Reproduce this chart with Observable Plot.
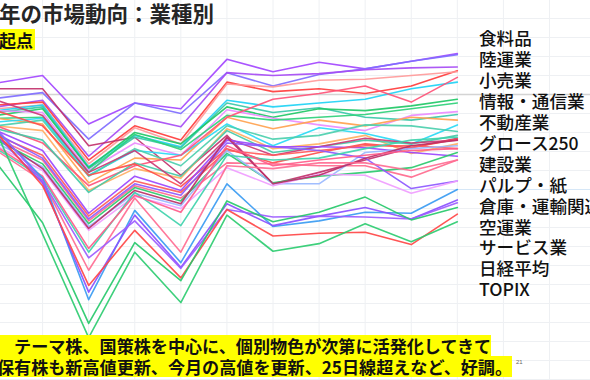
<!DOCTYPE html>
<html>
<head>
<meta charset="utf-8">
<script src="https://cdn.jsdelivr.net/npm/d3@7"></script>
<script src="https://cdn.jsdelivr.net/npm/@observablehq/plot@0.6"></script>
<style>
html, body { margin: 0; padding: 0; background: #fff; width: 590px; height: 380px; overflow: hidden; }
#wrap { position: relative; width: 590px; height: 380px; overflow: hidden; font-family: "Noto Sans CJK JP", "Noto Sans", sans-serif; }
#chart { position: absolute; left: 0; top: 0; }
.title { position: absolute; left: -1px; top: 2px; font-size: 21.5px; line-height: 1; font-weight: 700; color: #262626; white-space: nowrap; }
.tag { position: absolute; left: 0; top: 29px; width: 35px; height: 21px; line-height: 21px; background: #ffff00; font-size: 17px; font-weight: 700; color: #111; white-space: nowrap; overflow: hidden; text-indent: -1px; }
.labels { position: absolute; left: 479px; top: 28.4px; font-size: 17.6px; line-height: 20.9px; font-weight: 500; color: #111; white-space: nowrap; }
.cap { position: absolute; left: -3px; font-size: 17.1px; font-weight: 700; color: #111; white-space: nowrap; height: 21px; line-height: 21px; background: #ffff00; width: max-content; }
.pg { position: absolute; left: 516px; top: 359px; font-size: 6px; color: #666; font-family: "Liberation Sans", sans-serif; }
</style>
</head>
<body>
<div id="wrap">
  <div id="chart"></div>
  <div class="title">年の市場動向：業種別</div>
  <div class="tag">起点</div>
  <div class="labels" id="labels"></div>
  <div class="cap" style="top:335px">　テーマ株、国策株を中心に、個別物色が次第に活発化してきて</div>
  <div class="cap" style="top:356px">保有株も新高値更新、今月の高値を更新、25日線超えなど、好調。</div>
  <div class="pg">21</div>
</div>
<script>
// x steps (trading days since the base point)
const steps = [0, 1, 2, 3, 4, 5, 6, 7, 8, 9, 10];

const seriesNames = [
  "食料品", "陸運業", "小売業", "情報・通信業", "不動産業", "グロース250", "建設業", "パルプ・紙",
  "倉庫・運輸関連業", "空運業", "サービス業", "日経平均", "TOPIX", "水産・農林業", "鉱業", "繊維製品",
  "化学", "医薬品", "石油・石炭製品", "ゴム製品", "ガラス・土石製品", "鉄鋼", "非鉄金属", "金属製品",
  "機械", "電気機器", "輸送用機器", "精密機器", "その他製品", "電気・ガス業", "海運業", "卸売業",
  "銀行業", "証券、商品先物取引業", "保険業", "その他金融業"
];

const seriesColors = [
  "#a346ff", "#7f6cff", "#a64bf4", "#ff3c3c", "#ff9a9a", "#c2326c", "#1fd3f5", "#3ac8a8",
  "#20c866", "#ea8cff", "#2fd07a", "#ffa24f", "#ffae63", "#29daf5", "#4ccfae", "#ff5278",
  "#45c9a7", "#cc3a75", "#ff4d4d", "#9a46ff", "#ff5a5a", "#ff6a8e", "#2cc96e", "#99b8ff",
  "#8d58ff", "#f09dff", "#bb2f66", "#ff6d92", "#3fd2ad", "#ff5c8a", "#3a9bf2", "#8a4fff",
  "#9c5cff", "#ff4747", "#27c96b", "#2ecc71"
];

// change from the base point, %
const seriesValues = [
  [1.2, 2.0, -3.1, -0.9, -1.5, 3.7, 2.4, 3.4, 2.7, 3.5, 4.3],
  [-0.4, 0.2, -4.7, -0.9, -2.0, 2.3, 0.9, 2.1, 2.7, 3.5, 4.2],
  [-1.3, -0.6, -6.5, -2.3, -3.4, 2.3, 2.0, 2.2, 2.6, 2.8, 2.9],
  [-1.1, -0.8, -6.9, -3.3, -4.8, 1.3, 0.3, 0.6, 0.1, 0.9, 2.5],
  [-1.5, -1.1, -7.3, -3.5, -5.2, 1.1, 0.8, 1.5, 1.6, 2.0, 2.4],
  [0.6, 0.6, -5.4, -4.5, -8.5, -4.3, -9.4, -8.2, -6.9, -5.6, -4.6],
  [-1.7, -1.1, -7.6, -4.3, -5.5, -0.6, -1.3, -0.9, -0.5, 0.6, 1.3],
  [-1.9, -1.3, -7.8, -4.5, -5.6, -0.9, -1.9, -1.4, -2.4, -2.7, -2.1],
  [-2.2, -1.5, -7.7, -4.0, -5.2, -1.3, -2.4, -1.5, -1.7, -1.2, -0.5],
  [-1.7, -1.9, -8.0, -5.1, -6.4, -1.6, -2.5, -3.2, -3.8, -2.2, -1.8],
  [-2.5, -2.4, -8.2, -4.2, -5.8, -2.2, -2.7, -2.4, -2.1, -1.5, -0.9],
  [-2.5, -3.1, -9.3, -6.7, -6.9, -2.4, -3.6, -2.7, -3.3, -2.4, -2.7],
  [-3.3, -3.8, -10.1, -7.8, -8.8, -3.6, -5.7, -5.2, -4.3, -6.2, -5.2],
  [-2.9, -2.5, -8.5, -5.9, -6.4, -3.1, -5.4, -3.5, -4.1, -5.2, -3.2],
  [-3.3, -2.7, -8.6, -5.7, -7.5, -3.3, -4.7, -4.3, -3.2, -3.3, -3.9],
  [-3.3, -5.1, -9.6, -7.5, -6.4, -2.4, -0.5, 0.1, 0.9, -0.8, 1.8],
  [-3.6, -4.8, -10.3, -7.2, -8.6, -3.8, -6.1, -5.5, -4.8, -5.2, -4.3],
  [-0.6, -2.2, -8.2, -5.9, -9.4, -4.6, -6.4, -5.5, -4.6, -5.1, -4.8],
  [-1.7, -3.3, -8.5, -7.3, -9.7, -5.7, -7.2, -6.1, -5.2, -5.6, -4.7],
  [-3.8, -5.9, -12.5, -8.6, -10.1, -4.8, -5.5, -5.5, -5.6, -6.1, -6.5],
  [-4.3, -6.4, -12.8, -9.1, -10.3, -5.9, -6.4, -5.9, -5.4, -5.4, -5.7],
  [-4.6, -6.9, -13.3, -9.6, -10.9, -7.2, -7.3, -7.5, -7.5, -8.7, -6.9],
  [-4.8, -7.3, -13.6, -9.8, -11.2, -6.2, -9.3, -8.6, -8.2, -7.7, -6.1],
  [-5.1, -7.6, -13.9, -10.4, -11.7, -5.9, -9.4, -9.4, -6.1, -5.7, -5.4],
  [-4.1, -6.7, -13.1, -9.4, -10.6, -5.1, -5.5, -5.9, -6.7, -9.9, -9.1],
  [-5.4, -8.0, -14.3, -10.7, -12.0, -7.7, -9.6, -8.4, -8.5, -10.4, -9.1],
  [-4.5, -7.8, -14.1, -10.1, -11.5, -4.5, -9.4, -8.5, -6.7, -5.4, -4.8],
  [-5.9, -9.1, -18.5, -10.9, -16.6, -7.5, -7.8, -7.2, -7.2, -8.0, -6.9],
  [-5.7, -8.8, -16.6, -10.3, -13.8, -6.4, -6.9, -6.7, -5.7, -4.8, -4.5],
  [-5.5, -8.6, -16.2, -10.6, -12.4, -5.4, -7.5, -6.9, -6.4, -5.9, -5.7],
  [-3.8, -8.8, -21.6, -12.2, -17.7, -9.4, -13.9, -13.3, -12.4, -12.5, -10.0],
  [-4.3, -9.3, -20.8, -12.7, -18.2, -11.5, -13.8, -12.8, -11.9, -13.1, -11.1],
  [-3.6, -9.1, -17.2, -13.3, -18.3, -12.1, -12.9, -12.8, -12.9, -13.1, -11.4],
  [-4.0, -9.6, -20.1, -14.3, -19.3, -12.1, -14.9, -14.6, -14.5, -15.8, -12.6],
  [-7.2, -13.5, -24.1, -15.6, -19.6, -11.2, -13.4, -12.4, -10.8, -13.2, -11.9],
  [-4.0, -14.7, -25.6, -16.6, -21.9, -12.7, -16.5, -15.7, -13.6, -15.5, -13.4]
];

const labelNames = ["食料品", "陸運業", "小売業", "情報・通信業", "不動産業", "グロース250", "建設業",
  "パルプ・紙", "倉庫・運輸関連業", "空運業", "サービス業", "日経平均", "TOPIX"];

const yTicks = [-30, -28, -26, -24, -22, -20, -18, -16, -14, -12, -10, -8, -6, -4, -2, 0, 2, 4, 6, 8, 10];
const xTicks = [1, 2, 3, 4, 5, 6, 7, 8, 9, 10, 11, 12];

const table = seriesNames.flatMap((name, i) =>
  seriesValues[i].map((v, j) => ({ name, step: steps[j], value: v }))
);

const chart = Plot.plot({
  width: 590,
  height: 380,
  margin: 0,
  style: { background: "transparent", overflow: "hidden" },
  x: { domain: [0, 12], range: [-4, 549], axis: null },
  y: { domain: [-30, 10], range: [379, -1], axis: null },
  color: { domain: seriesNames, range: seriesColors },
  marks: [
    Plot.ruleY(yTicks, { stroke: "#eef0f3", strokeWidth: 1 }),
    Plot.ruleX(xTicks, { stroke: "#eef0f3", strokeWidth: 1 }),
    Plot.ruleY([-10], { stroke: "#d6e7f7", strokeWidth: 1.2 }),
    Plot.ruleY([0], { stroke: "#d4d4d4", strokeWidth: 1.5 }),
    Plot.line(table, { x: "step", y: "value", z: "name", stroke: "name", strokeWidth: 1.6, strokeOpacity: 0.92 })
  ]
});
document.getElementById("chart").append(chart);

const lab = document.getElementById("labels");
labelNames.forEach(n => {
  const d = document.createElement("div");
  d.textContent = n;
  lab.append(d);
});
</script>
</body>
</html>
